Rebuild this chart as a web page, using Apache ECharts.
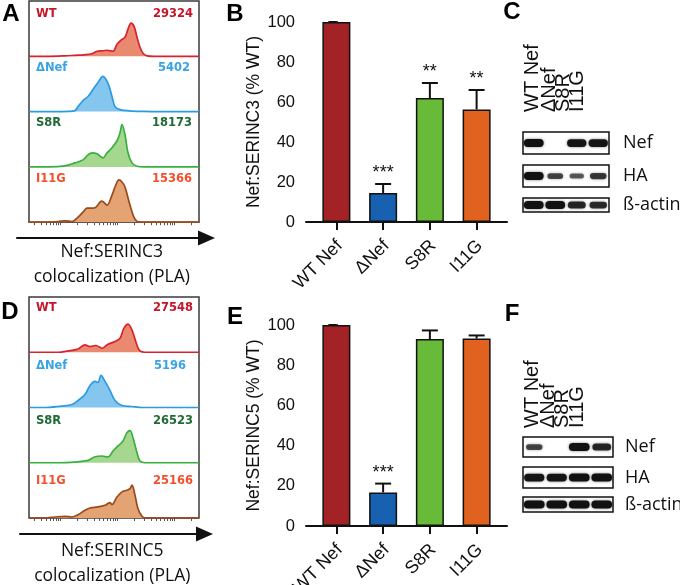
<!DOCTYPE html>
<html><head><meta charset="utf-8">
<script src="https://cdn.jsdelivr.net/npm/echarts@6/dist/echarts.min.js"></script>
<style>html,body{margin:0;padding:0;background:#fff}#c{width:680px;height:585px}</style>
</head><body><div id="c"></div><script>
// ---------------- DATA ----------------
const samples = ['WT', 'ΔNef', 'S8R', 'I11G'];
const groups = ['WT Nef', 'ΔNef', 'S8R', 'I11G'];

// Histograms (x: fluorescence channel position, y: scaled event count)
const serinc3WT   = [[0,0],[20,0],[35,0.4],[46,1],[55,1.5],[63,2.5],[68,5],[74,5.5],[78,6],[84,5],[88,12],[92,16],[96,19],[99,27],[102,33],[105,30],[108,19],[111,9],[114,3],[118,0.5],[125,0],[170,0]];
const serinc3dNef = [[0,0],[40,0.3],[46,1],[49,5],[54,11],[59,15],[64,22],[69,29],[74,35],[79,28],[83,15],[86,5],[91,2],[100,0.8],[115,0.2],[130,0],[170,0]];
const serinc3S8R  = [[0,0],[20,0],[36,1],[46,4],[54,7],[59,12],[63,14],[68,13],[74,9],[78,14],[83,19],[88,26],[91,34],[93,42],[96,32],[99,14],[103,4],[108,0.7],[115,0],[170,0]];
const serinc3I11G = [[0,0],[16,0],[29,0.7],[36,1.3],[43,0.7],[49,5],[54,10],[58,14],[63,14],[67,15],[71,20],[73,21],[78,17],[83,27],[86,35],[90,42],[93,40],[96,35],[101,17],[106,3],[111,0],[170,0]];
const serinc5WT   = [[0,0],[29,0],[39,1.3],[49,3.3],[56,7.3],[61,5.7],[67,6.7],[73,4],[79,8],[86,10.7],[91,14],[95,24],[99,28],[103,22],[108,7],[111,1.3],[116,0],[170,0]];
const serinc5dNef = [[0,0],[16,0],[29,1],[43,3],[49,7],[56,13],[61,22],[66,26],[69,25],[72,32],[76,26],[81,17],[86,7],[93,2],[103,1],[113,0],[170,0]];
const serinc5S8R  = [[0,0],[29,0],[46,0.7],[59,2.3],[66,6],[73,6.7],[79,5.7],[84,11.7],[89,16.7],[94,21.7],[98,30],[101,32],[104,25],[108,10],[111,1.7],[116,0],[170,0]];
const serinc5I11G = [[0,0],[16,0],[26,1],[36,1.7],[43,1],[49,3.3],[56,7.7],[61,10],[69,11],[76,12.7],[81,15.3],[83,13.3],[88,21],[93,26],[98,27.7],[101,29.3],[103,32.7],[106,22.7],[109,9.3],[113,1.7],[116,0],[170,0]];
const serinc3Counts = ['29324', '5402', '18173', '15366'];
const serinc5Counts = ['27548', '5196', '26523', '25166'];
const histTicks = [5, 12, 17, 21, 24, 27, 29, 31, 48, 58, 65, 70, 74, 78, 81, 84, 86, 88, 105, 115, 122, 127, 131, 135, 138, 141, 143, 145, 162];

// Bar charts (% WT)
const serinc3Mean  = [100, 14.5, 62, 56.3];
const serinc3Sem   = [0, 4.5, 7.5, 9.7];
const serinc3Stars = [0, 3, 2, 2];
const serinc5Mean  = [100, 16.7, 93, 93.3];
const serinc5Sem   = [0, 4.4, 4.3, 1.5];
const serinc5Stars = [0, 3, 0, 0];

// Western blots (relative band intensity per lane)
const blotRows = ['Nef', 'HA', 'ß-actin'];
const blotCNef   = [1, 0, 0.95, 0.95];
const blotCHA    = [1, 0.55, 0.4, 0.65];
const blotCActin = [1, 1, 0.8, 0.75];
const blotFNef   = [0.55, 0, 1, 0.8];
const blotFHA    = [0.95, 0.95, 1, 1];
const blotFActin = [1, 1, 1, 1];

// ---------------- STYLE ----------------
const lineColors = ['#d8232f', '#2a9be0', '#38b040', '#9a4a1c'];
const fillColors = ['#e98a70', '#85c6ef', '#a6d78e', '#e3a373'];
const labelColors = ['#c4162a', '#3aa3e3', '#1f6b35', '#f2502c'];
const barColors = ['#a22226', '#1860b0', '#68bb38', '#e0621e'];
const ARIAL = '"Liberation Sans", Arial, sans-serif';
const OPEN = '"Open Sans", sans-serif';

const grids = [], xAxes = [], yAxes = [], series = [], graphics = [];
function addGrid(g, x, y) {
  grids.push(Object.assign({containLabel: false, outerBoundsMode: 'none'}, g));
  const i = grids.length - 1;
  xAxes.push(Object.assign({gridIndex: i}, x));
  yAxes.push(Object.assign({gridIndex: i}, y));
  return i;
}
function txt(x, y, text, o) {
  const s = Object.assign({text, x: 0, y: 0, fill: '#111', align: 'left', textAlign: 'left', verticalAlign: 'middle', textVerticalAlign: 'middle'}, o.style || {});
  if (o.align) { s.align = o.align; s.textAlign = o.align; }
  graphics.push({type: 'text', x, y, rotation: o.rotation || 0, style: s, z: 100});
}

// ---------------- HISTOGRAM PANELS ----------------
function histPanel(top, stripH, curves, counts, labelYs, countRights, arrowY, arrowX0, arrowTip, title, nameGap) {
  const left = 29, width = 170;
  addGrid({left, top, width, height: stripH * 4, show: true, borderColor: '#3a3a3a', borderWidth: 1.5, backgroundColor: 'transparent'},
    {type: 'value', show: false, min: 0, max: 1}, {type: 'value', show: false, min: 0, max: 1});
  curves.forEach((c, i) => {
    const last = i === 3;
    const gi = addGrid({left, top: top + stripH * i, width, height: stripH},
      {type: 'value', min: 0, max: 170, show: last, axisLine: {show: false}, axisLabel: {show: false}, splitLine: {show: false},
       axisTick: {show: true, customValues: histTicks, length: 3, lineStyle: {color: '#555', width: 1}}},
      {type: 'value', min: 0, max: 55, show: false});
    series.push({type: 'line', xAxisIndex: gi, yAxisIndex: gi, data: c, smooth: 0.35, showSymbol: false, clip: false,
      lineStyle: {color: lineColors[i], width: 1.7}, areaStyle: {color: fillColors[i], opacity: 1}, z: 3, silent: true});
    txt(36, labelYs[i], samples[i], {style: {fill: labelColors[i], font: 'bold 11.5px "DejaVu Sans", sans-serif'}});
    txt(countRights[i], labelYs[i], counts[i], {align: 'right', style: {fill: labelColors[i], font: 'bold 11.5px "DejaVu Sans", sans-serif'}});
  });
  // arrow axis with title
  const end = arrowTip - 8.5;
  addGrid({left: arrowX0, top: arrowY - 1, width: end - arrowX0, height: 1},
    {type: 'value', min: 0, max: 1, position: 'bottom',
     axisLine: {show: true, symbol: ['none', 'triangle'], symbolSize: [15, 17], lineStyle: {color: '#111', width: 2}},
     axisTick: {show: false}, axisLabel: {show: false}, splitLine: {show: false},
     name: title, nameLocation: 'middle', nameGap,
     nameTextStyle: {fontFamily: OPEN, fontSize: 17.5, lineHeight: 25.5, color: '#111'}},
    {type: 'value', show: false});
}
histPanel(1, 55.3, [serinc3WT, serinc3dNef, serinc3S8R, serinc3I11G], serinc3Counts, [14, 68, 123, 179], [193, 190, 192, 192], 238, 17, 215, 'Nef:SERINC3\ncolocalization (PLA)', 1);
histPanel(297, 55.25, [serinc5WT, serinc5dNef, serinc5S8R, serinc5I11G], serinc5Counts, [308, 366, 421, 481], [193, 186, 193, 193], 534, 20, 213, 'Nef:SERINC5\ncolocalization (PLA)', 4);

// ---------------- BAR PANELS ----------------
function barPanel(top, height, means, sems, stars, yName) {
  const gi = addGrid({left: 306, top, width: 201, height},
    {type: 'value', min: -0.65, max: 3.65, splitLine: {show: false},
     axisLine: {show: true, lineStyle: {color: '#111', width: 2}},
     axisTick: {show: true, customValues: [0, 1, 2, 3], length: 8, lineStyle: {color: '#111', width: 2}},
     axisLabel: {customValues: [0.07, 1.07, 2.07, 3.07], formatter: v => groups[Math.round(v)], rotate: 45, margin: 21,
                 fontFamily: ARIAL, fontSize: 18, color: '#111'}},
    {type: 'value', min: 0, max: 100, interval: 20, splitLine: {show: false},
     axisLine: {show: true, lineStyle: {color: '#111', width: 2}},
     axisTick: {show: true, length: 8, lineStyle: {color: '#111', width: 2}},
     axisLabel: {margin: 11, fontFamily: ARIAL, fontSize: 16.5, color: '#111'},
     name: yName, nameLocation: 'middle', nameGap: 40, nameRotate: 90,
     nameTextStyle: {fontFamily: ARIAL, fontSize: 17.5, color: '#111'}});
  series.push({type: 'bar', xAxisIndex: gi, yAxisIndex: gi, barWidth: 28, silent: true,
    data: means.map((v, i) => ({value: [i, v], itemStyle: {color: barColors[i], borderColor: '#111', borderWidth: 1.5}})), z: 2});
  series.push({type: 'custom', xAxisIndex: gi, yAxisIndex: gi, silent: true, z: 3,
    data: means.map((v, i) => [i, v, v + sems[i]]).filter((d, i) => sems[i] > 0),
    encode: {x: 0, y: [1, 2]},
    renderItem: (p, api) => {
      const a = api.coord([api.value(0), api.value(1)]);
      const b = api.coord([api.value(0), api.value(2)]);
      return {type: 'group', children: [
        {type: 'line', shape: {x1: a[0], y1: a[1], x2: b[0], y2: b[1]}, style: {stroke: '#111', lineWidth: 2}},
        {type: 'line', shape: {x1: b[0] - 8, y1: b[1], x2: b[0] + 8, y2: b[1]}, style: {stroke: '#111', lineWidth: 2}}
      ]};
    }});
  series.push({type: 'custom', xAxisIndex: gi, yAxisIndex: gi, silent: true, z: 4,
    data: means.map((v, i) => [i, v + sems[i], stars[i]]).filter(d => d[2] > 0),
    encode: {x: 0, y: 1},
    renderItem: (p, api) => {
      const a = api.coord([api.value(0), api.value(1)]);
      return {type: 'text', x: a[0], y: a[1] - 15 + 4,
        style: {text: '*'.repeat(api.value(2)), fill: '#111', font: '18px ' + ARIAL, align: 'center', textAlign: 'center', verticalAlign: 'middle', textVerticalAlign: 'middle'}};
    }});
}
barPanel(22, 200, serinc3Mean, serinc3Sem, serinc3Stars, 'Nef:SERINC3 (% WT)');
barPanel(325, 201, serinc5Mean, serinc5Sem, serinc5Stars, 'Nef:SERINC5 (% WT)');

// ---------------- BLOT PANELS ----------------
function blotPanel(left, width, rows, rowData, labelX, laneLabelXs, laneLabelBottom) {
  rows.forEach((r, k) => {
    const gi = addGrid({left, top: r[0], width, height: r[1], show: true, borderColor: '#111', borderWidth: 1.5, backgroundColor: '#fff'},
      {type: 'category', data: groups, show: false, boundaryGap: true},
      {type: 'value', min: 0, max: 1, show: false});
    series.push({type: 'custom', xAxisIndex: gi, yAxisIndex: gi, silent: true,
      data: rowData[k].map((v, i) => [i, v]),
      encode: {x: 0, y: 1},
      renderItem: (p, api) => {
        const I = api.value(1);
        if (!I) return null;
        const c = api.coord([api.value(0), 0.5]);
        const laneW = api.size([1, 0])[0];
        const rowH = api.size([0, 1])[1];
        const w = laneW * (0.5 + 0.42 * I);
        const h = Math.min(rowH * 0.6, 3 + 5 * I);
        return {type: 'rect', shape: {x: c[0] - w / 2, y: c[1] - h / 2, width: w, height: h, r: h / 2},
          style: {fill: '#111', opacity: 0.35 + 0.65 * I, shadowBlur: 3, shadowColor: 'rgba(0,0,0,0.5)'}};
      }});
    txt(labelX, r[0] + r[1] / 2, blotRows[k], {style: {font: '18px ' + OPEN, fill: '#111'}});
  });
  groups.forEach((g, i) => txt(laneLabelXs[i], laneLabelBottom, g, {rotation: Math.PI / 2, style: {font: '20px ' + ARIAL, fill: '#111'}}));
}
blotPanel(523, 86, [[132, 22], [165, 22], [198, 14]], [blotCNef, blotCHA, blotCActin], 623, [532, 549, 563, 577], 112);
blotPanel(523, 90, [[437, 20], [467, 21], [497, 15]], [blotFNef, blotFHA, blotFActin], 625, [532, 548, 562, 577], 428);

// ---------------- PANEL LETTERS ----------------
[['A', 11, 14], ['B', 235, 14], ['C', 512, 12], ['D', 10, 312], ['E', 235, 317], ['F', 512, 314]].forEach(l =>
  txt(l[1], l[2], l[0], {align: 'center', style: {font: 'bold 24px ' + ARIAL, fill: '#000'}}));

const chart = echarts.init(document.getElementById('c'), null, {renderer: 'canvas'});
chart.setOption({animation: false, backgroundColor: '#fff', grid: grids, xAxis: xAxes, yAxis: yAxes, series, graphic: {elements: graphics}});
</script></body></html>
